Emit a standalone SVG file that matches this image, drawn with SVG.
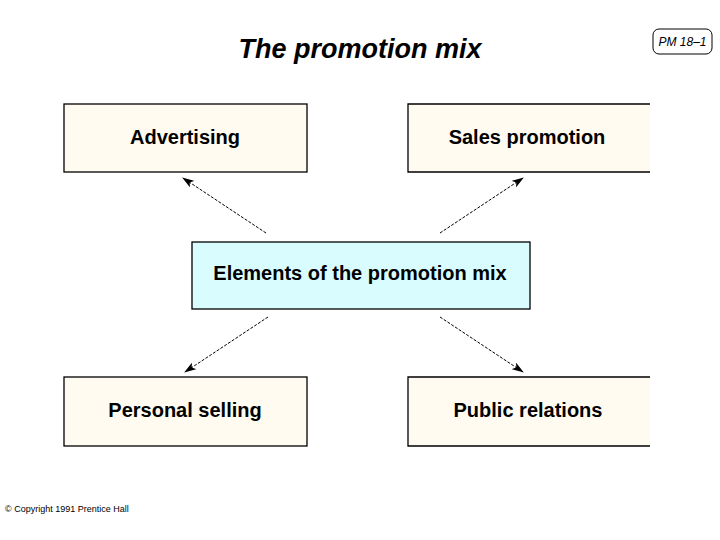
<svg xmlns="http://www.w3.org/2000/svg" width="720" height="540" viewBox="0 0 720 540">
<style>
.box{fill:#fffbf0;stroke:#000;stroke-width:1.3}
.open{fill:#fffbf0;stroke:none}
.edge{fill:none;stroke:#000;stroke-width:1.3}
.lbl{font-family:"Liberation Sans",Arial,sans-serif;font-weight:bold;font-size:20px;text-anchor:middle;fill:#000}
.conn{stroke:#000;stroke-width:1;stroke-dasharray:3,1.5;fill:none;marker-end:url(#ah)}
</style>
<defs>
<marker id="ah" viewBox="0 0 12 8" refX="11" refY="4" markerWidth="12" markerHeight="8" markerUnits="userSpaceOnUse" orient="auto">
<path d="M0,0 L12,4 L0,8 L3,4 Z" fill="#000"/>
</marker>
</defs>
<rect width="720" height="540" fill="#fff"/>
<text x="360" y="58" font-family="Liberation Sans,Arial,sans-serif" font-weight="bold" font-style="italic" font-size="27" text-anchor="middle">The promotion mix</text>
<g id="tag">
<rect x="653" y="29" width="59" height="25" rx="6" fill="#fff" stroke="#000" stroke-width="1"/>
<text x="682.5" y="46" font-family="Liberation Sans,Arial,sans-serif" font-style="italic" font-size="12" text-anchor="middle">PM 18–1</text>
</g>
<g id="advertising">
<rect class="box" x="64" y="104" width="243" height="68"/>
<text class="lbl" x="185" y="144">Advertising</text>
</g>
<g id="sales-promotion">
<rect class="open" x="408" y="104" width="242" height="68"/>
<path class="edge" d="M650,104 H408 V172 H650"/>
<text class="lbl" x="527" y="144">Sales promotion</text>
</g>
<g id="elements">
<rect x="192" y="242" width="338" height="67" fill="#d9fdff" stroke="#000" stroke-width="1.3"/>
<text class="lbl" x="360" y="280">Elements of the promotion mix</text>
</g>
<g id="personal-selling">
<rect class="box" x="64" y="377" width="243" height="69"/>
<text class="lbl" x="185" y="417">Personal selling</text>
</g>
<g id="public-relations">
<rect class="open" x="408" y="377" width="242" height="69"/>
<path class="edge" d="M650,377 H408 V446 H650"/>
<text class="lbl" x="528" y="417">Public relations</text>
</g>
<g id="connectors">
<line class="conn" x1="266" y1="233" x2="183" y2="178"/>
<line class="conn" x1="440" y1="233" x2="523" y2="178"/>
<line class="conn" x1="268" y1="317" x2="185" y2="372"/>
<line class="conn" x1="440" y1="317" x2="523" y2="372"/>
</g>
<text x="5" y="512" font-family="Liberation Sans,Arial,sans-serif" font-size="9">© Copyright 1991 Prentice Hall</text>
</svg>
